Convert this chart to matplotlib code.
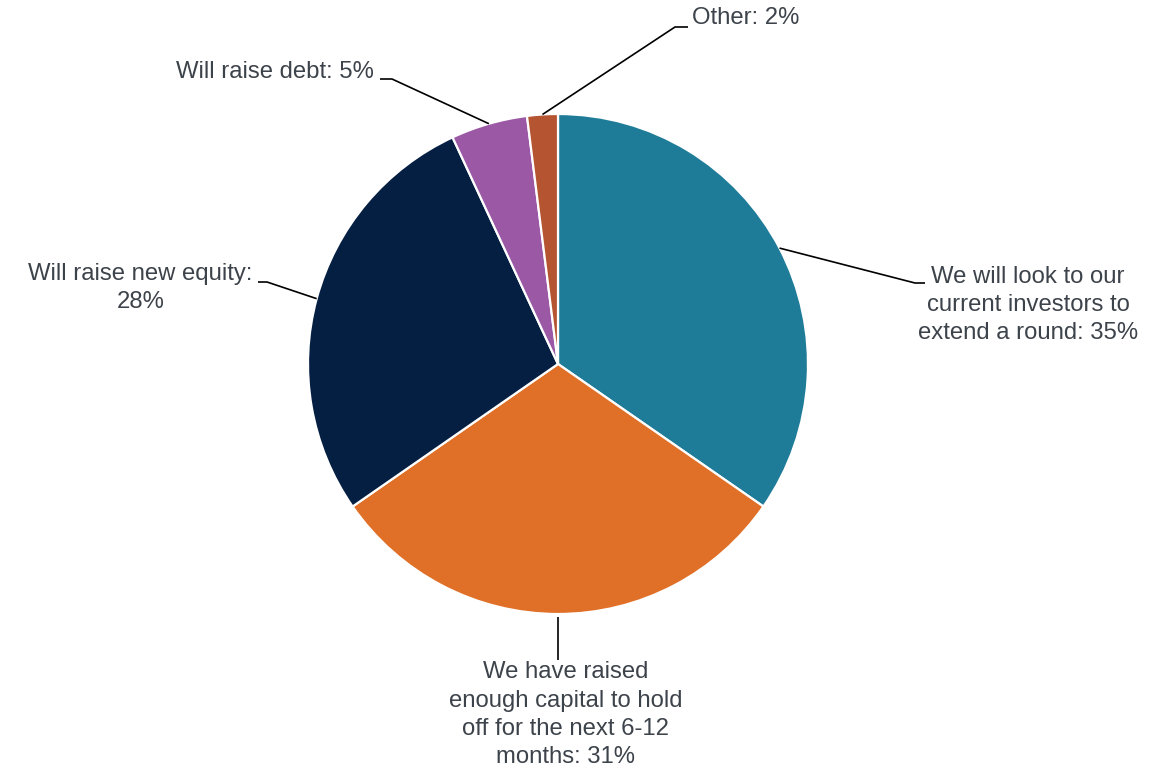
import matplotlib.pyplot as plt
import numpy as np

# Funding plans share (%)
labels = [
    "We will look to our\ncurrent investors to\nextend a round: 35%",
    "We have raised\nenough capital to hold\noff for the next 6-12\nmonths: 31%",
    "Will raise new equity:\n28%",
    "Will raise debt: 5%",
    "Other: 2%",
]
values = [35, 31, 28, 5, 2]
colors = ["#1f7c99", "#e06f27", "#051f43", "#9b58a4", "#b55431"]

# label layout: elbow point, end of horizontal tick, text anchor (in pie-radius units)
layout = [
    dict(elbow=(1.428, 0.324), end=(1.468, 0.324), text=(1.44, 0.236), ha="left", va="center"),
    dict(elbow=None, end=(0.0, -1.184), text=(0.032, -1.19), ha="center", va="top"),
    dict(elbow=(-1.164, 0.328), end=(-1.2, 0.328), text=(-1.222, 0.304), ha="right", va="center"),
    dict(elbow=(-0.664, 1.14), end=(-0.712, 1.14), text=(-0.738, 1.168), ha="right", va="center"),
    dict(elbow=(0.468, 1.348), end=(0.52, 1.348), text=(0.536, 1.384), ha="left", va="center"),
]

plt.rcParams["font.family"] = ["Liberation Sans", "DejaVu Sans"]

fig = plt.figure(figsize=(11.75, 7.7), dpi=100)
ax = fig.add_axes([0, 0, 1, 1])

wedges, _ = ax.pie(values, colors=colors, startangle=90, counterclock=False,
                   radius=1.0, center=(0, 0),
                   wedgeprops=dict(edgecolor="white", linewidth=1.6))

for w, lab, lay in zip(wedges, labels, layout):
    ang = np.deg2rad((w.theta1 + w.theta2) / 2)
    sx, sy = np.cos(ang), np.sin(ang)
    ex, ey = lay["end"]
    if lay["elbow"] is None:
        xs = [sx, sx]
        ys = [sy - 0.012, ey]
    else:
        bx, by = lay["elbow"]
        xs = [sx, bx, ex]
        ys = [sy, by, ey]
    ax.plot(xs, ys, color="black", lw=1.2, solid_capstyle="butt")
    tx, ty = lay["text"]
    ax.text(tx, ty, lab, ha=lay["ha"], va=lay["va"], multialignment="center",
            fontsize=17.2, linespacing=1.36, color="#3d434a")

# pie center sits at pixel (558, 364), radius 250 px
ax.set_xlim(-558 / 250, (1175 - 558) / 250)
ax.set_ylim(-(770 - 364) / 250, 364 / 250)
ax.set_aspect("equal")
ax.axis("off")

fig.savefig("out.png", dpi=100, facecolor="white")
